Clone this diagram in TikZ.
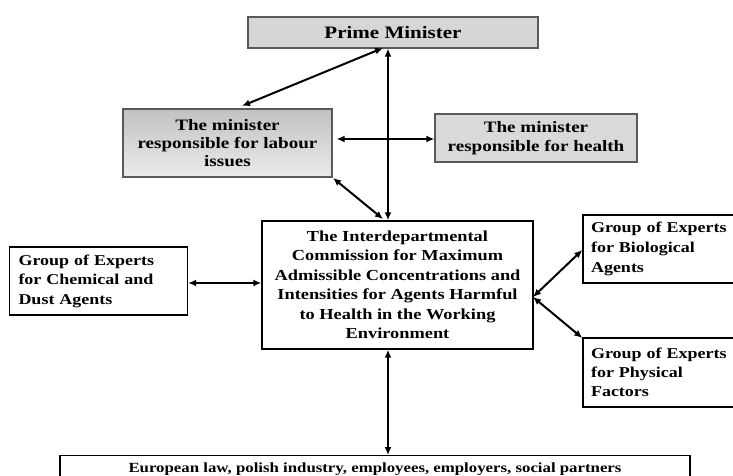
\documentclass[tikz,border=0pt]{standalone}
\usepackage{fontspec}
\setmainfont[FakeStretch=1.2]{Liberation Serif}
\usetikzlibrary{arrows.meta}
\tikzset{
  box/.style={draw=black, line width=1.4pt, rectangle, inner sep=0pt},
  graybox/.style={draw=black!65, line width=1.2pt, rectangle, inner sep=0pt},
  dbl/.style={line width=2pt, {Latex[length=8pt,width=7pt]}-{Latex[length=8pt,width=7pt]}},
}
\begin{document}
\begin{tikzpicture}[x=1pt,y=-1pt]
\clip (0,0) rectangle (733,476);
\useasboundingbox (0,0) rectangle (733,476);
\fill[white] (0,0) rectangle (733,476);

% nodes
\node[graybox, fill=black!16, minimum width=290pt, minimum height=31pt,
  font=\bfseries\fontsize{17.5}{20}\selectfont] (pm) at (393,32.5)
  {Prime Minister};
\node[graybox, top color=black!24, bottom color=black!8, minimum width=209pt, minimum height=68pt, align=center,
  font=\bfseries\fontsize{15.9}{18}\selectfont] (lab) at (227.5,143)
  {The minister\\responsible for labour\\issues};
\node[graybox, fill=black!15, minimum width=202pt, minimum height=48pt, align=center,
  font=\bfseries\fontsize{15.9}{18.5}\selectfont] (hea) at (536,138)
  {The minister\\responsible for health};
\node[box, minimum width=271pt, minimum height=128pt, align=center,
  font=\bfseries\fontsize{15.3}{19.5}\selectfont] (com) at (397.5,285)
  {The Interdepartmental\\Commission for Maximum\\Admissible Concentrations and\\Intensities for Agents Harmful\\to Health in the Working\\Environment};
\node[box, minimum width=177pt, minimum height=68pt, text width=160pt, align=left, inner xsep=9pt,
  font=\bfseries\fontsize{15}{19.5}\selectfont] (che) at (98.5,281)
  {Group of Experts\\for Chemical and\\Dust Agents};
\node[box, minimum width=160pt, minimum height=68pt, text width=144pt, align=left, inner xsep=8pt,
  font=\bfseries\fontsize{15}{20}\selectfont] (bio) at (663,249)
  {Group of Experts\\for Biological\\Agents};
\node[box, minimum width=160pt, minimum height=69pt, text width=144pt, align=left, inner xsep=8pt,
  font=\bfseries\fontsize{15}{19}\selectfont] (phy) at (663,372.5)
  {Group of Experts\\for Physical\\Factors};
\node[box, anchor=north, minimum width=630pt, text height=13pt, text depth=30pt, inner ysep=4pt,
  font=\bfseries\fontsize{14}{16}\selectfont] (bot) at (375,455)
  {European law, polish industry, employees, employers, social partners};

% helper coordinates
\coordinate (vx) at (388,0);
\coordinate (pmA) at (383,48);
\coordinate (labA) at (242,106);
\coordinate (labB) at (333,178);
\coordinate (comA) at (383,219);
\coordinate (comR) at (533,297);

% connectors
\draw[dbl] (pm.south -| vx) -- (com.north -| vx);
\draw[dbl] (labA) -- (pmA);
\draw[dbl] ([xshift=4pt]lab.east |- 0,139) -- (hea.west |- 0,139);
\draw[dbl] (labB) -- (comA);
\draw[dbl] (che.east |- 0,283) -- (com.west |- 0,283);
\draw[dbl] (comR) -- (bio.west |- 0,250);
\draw[dbl] (comR) -- (phy.west |- 0,338);
\draw[dbl] (com.south -| vx) -- (bot.north -| vx);
\end{tikzpicture}
\end{document}
